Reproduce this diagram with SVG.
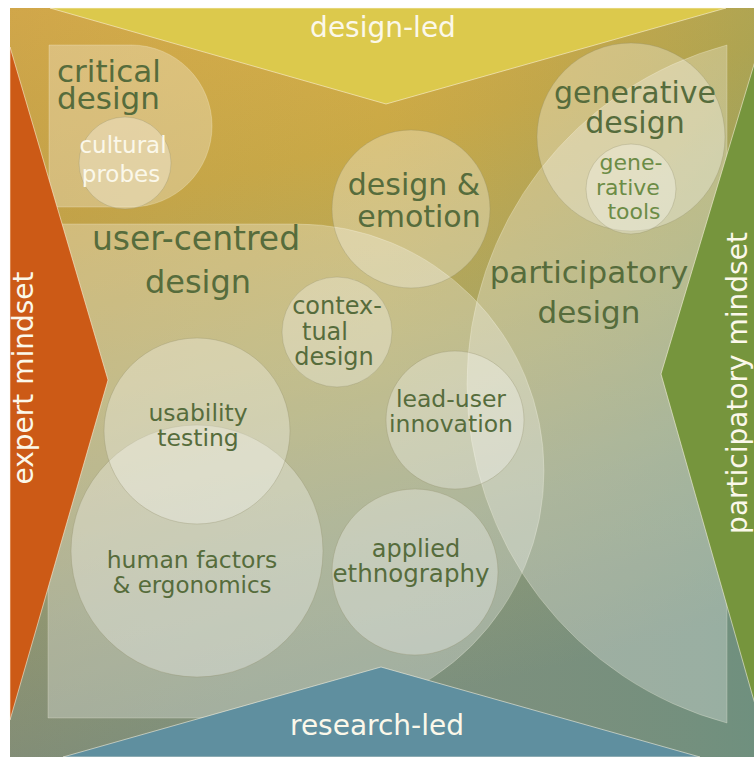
<svg xmlns="http://www.w3.org/2000/svg" width="754" height="757" viewBox="0 0 754 757">
  <defs>
    <linearGradient id="bgV" x1="0" y1="0" x2="0.25" y2="1">
      <stop offset="0" stop-color="#dcb048"/>
      <stop offset="0.28" stop-color="#caa946"/>
      <stop offset="0.52" stop-color="#b0a75e"/>
      <stop offset="0.78" stop-color="#909b76"/>
      <stop offset="1" stop-color="#7c907e"/>
    </linearGradient>
    <linearGradient id="bgH" x1="0" y1="0" x2="1" y2="0">
      <stop offset="0" stop-color="#8a6c55" stop-opacity="0.14"/>
      <stop offset="0.5" stop-color="#8a8a70" stop-opacity="0"/>
      <stop offset="1" stop-color="#3c9080" stop-opacity="0.2"/>
    </linearGradient>
    <style>
      .zone { fill: #ffffff; fill-opacity: 0.28; stroke: #fffbe8; stroke-opacity: 0.25; stroke-width: 1; }
      .bubble { fill: #ffffff; fill-opacity: 0.3; stroke: #8f8a66; stroke-opacity: 0.3; stroke-width: 1; }
      .wedge { stroke: #fff8e6; stroke-opacity: 0.55; stroke-width: 1; }
      text { font-family: "DejaVu Sans", "Liberation Sans", sans-serif; text-anchor: middle; }
      .lbl { fill: #566c3c; }
      .lite { fill: #6c8c46; }
      .white { fill: #fbf8ea; }
    </style>
  </defs>

  <!-- backdrop square -->
  <rect x="0" y="0" width="754" height="757" fill="#ffffff"/>
  <rect x="10" y="8" width="744" height="749" fill="url(#bgV)"/>
  <rect x="10" y="8" width="744" height="749" fill="url(#bgH)"/>

  <!-- approach areas -->
  <g id="critical-design">
    <path class="zone" d="M49,45 H131 A81,81 0 0 1 131,207 H49 Z"/>
    <text class="lbl" x="57" y="82" font-size="31" style="text-anchor:start">critical</text>
    <text class="lbl" x="57" y="109" font-size="31" style="text-anchor:start">design</text>
  </g>
  <g id="user-centred-design">
    <path class="zone" d="M48,224 H297 A247,247 0 0 1 297,718 H48 Z"/>
    <text class="lbl" x="196" y="250" font-size="33">user-centred</text>
    <text class="lbl" x="198" y="293" font-size="32">design</text>
  </g>
  <g id="participatory-design">
    <path class="zone" d="M727,45 A351,351 0 0 0 727,723 Z"/>
    <text class="lbl" x="589" y="283" font-size="31">participatory</text>
    <text class="lbl" x="589" y="323" font-size="31">design</text>
  </g>

  <!-- methods -->
  <g id="cultural-probes">
    <circle class="bubble" cx="125" cy="163" r="46"/>
    <text class="white" x="123" y="153" font-size="23">cultural</text>
    <text class="white" x="121" y="182" font-size="23">probes</text>
  </g>
  <g id="design-emotion">
    <circle class="bubble" cx="411" cy="209" r="79"/>
    <text class="lbl" x="414" y="195" font-size="30">design &amp;</text>
    <text class="lbl" x="419" y="227" font-size="30">emotion</text>
  </g>
  <g id="generative-design">
    <circle class="bubble" cx="631" cy="137" r="94"/>
    <text class="lbl" x="635" y="103" font-size="30">generative</text>
    <text class="lbl" x="635" y="133" font-size="30">design</text>
  </g>
  <g id="generative-tools">
    <circle class="bubble" cx="631" cy="189" r="45"/>
    <text class="lite" x="631" y="170" font-size="22">gene-</text>
    <text class="lite" x="628" y="195" font-size="22">rative</text>
    <text class="lite" x="634" y="219" font-size="22">tools</text>
  </g>
  <g id="contextual-design">
    <circle class="bubble" cx="337" cy="332" r="55"/>
    <text class="lbl" x="337" y="314" font-size="24">contex-</text>
    <text class="lbl" x="325" y="340" font-size="24">tual</text>
    <text class="lbl" x="334" y="365" font-size="24">design</text>
  </g>
  <g id="human-factors">
    <circle class="bubble" cx="197" cy="551" r="126"/>
    <text class="lbl" x="192" y="568" font-size="23.5">human factors</text>
    <text class="lbl" x="192" y="593" font-size="23">&amp; ergonomics</text>
  </g>
  <g id="usability-testing">
    <circle class="bubble" cx="197" cy="431" r="93"/>
    <text class="lbl" x="198" y="421" font-size="23.5">usability</text>
    <text class="lbl" x="198" y="446" font-size="23.5">testing</text>
  </g>
  <g id="lead-user-innovation">
    <circle class="bubble" cx="455" cy="420" r="69"/>
    <text class="lbl" x="451" y="407" font-size="23.5">lead-user</text>
    <text class="lbl" x="451" y="432" font-size="23.5">innovation</text>
  </g>
  <g id="applied-ethnography">
    <circle class="bubble" cx="415" cy="572" r="83"/>
    <text class="lbl" x="416" y="557" font-size="24">applied</text>
    <text class="lbl" x="411" y="582" font-size="24.5">ethnography</text>
  </g>

  <!-- axis wedges -->
  <g id="design-led">
    <polygon class="wedge" fill="#dcc94c" points="50,8 726,8 386,104"/>
    <text class="white" x="383" y="37" font-size="28">design-led</text>
  </g>
  <g id="research-led">
    <polygon class="wedge" fill="#5f8f9f" points="63,757 381,667 700,757"/>
    <text class="white" x="377" y="735" font-size="28">research-led</text>
  </g>
  <g id="expert-mindset">
    <polygon class="wedge" fill="#cc5a16" points="10,47 108,380 10,720"/>
    <text class="white" transform="translate(33,378) rotate(-90)" x="0" y="0" font-size="28">expert mindset</text>
  </g>
  <g id="participatory-mindset">
    <polygon class="wedge" fill="#76953d" points="771,8 661,374 770,757"/>
    <text class="white" transform="translate(747,383) rotate(-90)" x="0" y="0" font-size="28">participatory mindset</text>
  </g>

  <!-- no connectors in this map -->
  <g id="connectors"/>
</svg>
